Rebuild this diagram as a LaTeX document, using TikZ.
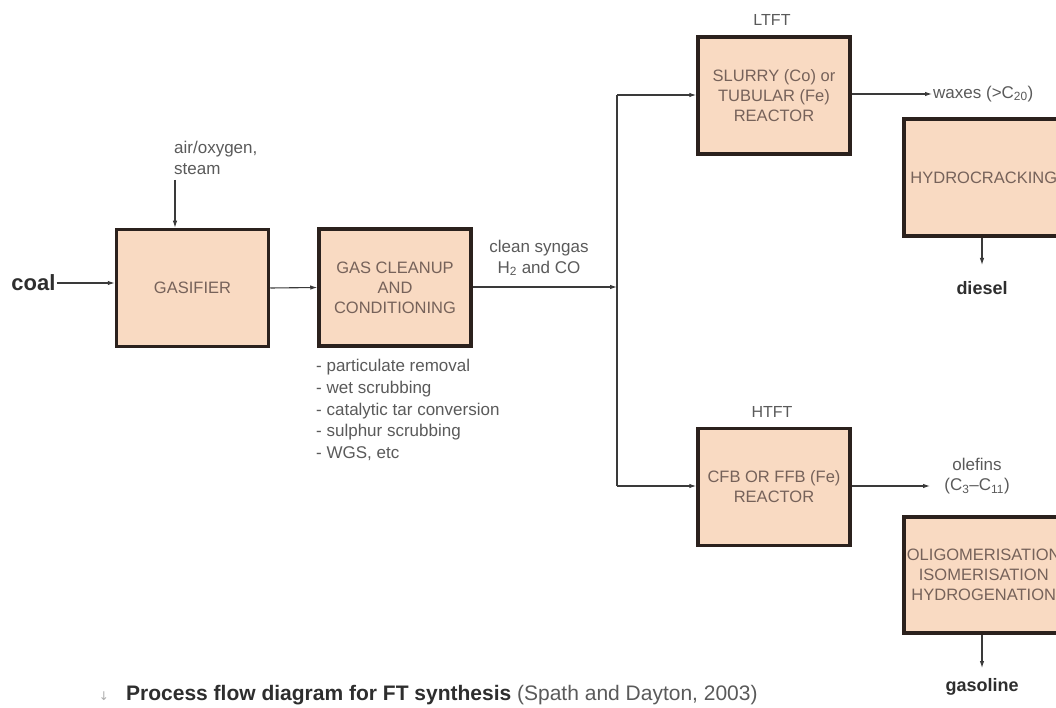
\documentclass[tikz,border=0pt]{standalone}
\usepackage{fontspec}
\setmainfont{Liberation Sans}
\newfontfamily\symfont{DejaVu Sans}
\usetikzlibrary{arrows.meta}
\definecolor{boxfill}{HTML}{F9DAC2}
\definecolor{boxline}{HTML}{2B211D}
\definecolor{boxtext}{HTML}{76625A}
\definecolor{lbltext}{HTML}{5A5A5A}
\definecolor{boldtext}{HTML}{2E2E2E}
\definecolor{conn}{HTML}{3A3A3A}
\tikzset{
  procbox/.style={draw=boxline, line width=3.5pt, fill=boxfill, minimum width=152pt,
    minimum height=117pt, inner sep=0pt, align=center, text=boxtext,
    font=\fontsize{16.5}{20}\selectfont},
  lbl/.style={text=lbltext, font=\fontsize{17}{20.5}\selectfont, inner sep=1pt},
  boldlbl/.style={text=boldtext, font=\fontsize{18}{21}\selectfont\bfseries, inner sep=1pt},
  arr/.style={draw=conn, line width=1.1pt, -{Latex[length=7pt,width=4.5pt]}},
  ln/.style={draw=conn, line width=1.1pt}
}
\begin{document}
\begin{tikzpicture}[x=1pt,y=-1pt]
\clip (0,0) rectangle (1056,708);
\fill[white] (0,0) rectangle (1056,708);

% process boxes
\node[procbox] (gasifier) at (192.5,288) {GASIFIER};
\node[procbox] (cleanup) at (395,287.5) {GAS CLEANUP\\AND\\CONDITIONING};
\node[procbox] (ltft) at (774,95.5) {SLURRY (Co) or\\TUBULAR (Fe)\\REACTOR};
\node[procbox, minimum width=160pt] (hydro) at (983.75,177.5) {HYDROCRACKING};
\node[procbox] (htft) at (774,487) {CFB OR FFB (Fe)\\REACTOR};
\node[procbox, minimum width=160pt, minimum height=116pt] (oligo) at (983.75,575) {OLIGOMERISATION\\ISOMERISATION\\HYDROGENATION};

% labels
\node[lbl, font=\fontsize{16}{20}\selectfont] (ltftlbl) at (772,20) {LTFT};
\node[lbl, font=\fontsize{16}{20}\selectfont] (htftlbl) at (772,412) {HTFT};
\node[boldlbl, font=\fontsize{22}{24}\selectfont\bfseries] (coal) at (33.5,283) {coal};
\node[lbl, align=left, anchor=west] (air) at (173,158) {air/oxygen,\\steam};
\node[lbl, align=center] (syngas) at (539,258) {clean syngas\\H\textsubscript{2} and CO};
\node[lbl, align=left, anchor=west, font=\fontsize{17}{21.6}\selectfont] (steps) at (315,410)
  {- particulate removal\\- wet scrubbing\\- catalytic tar conversion\\- sulphur scrubbing\\- WGS, etc};
\node[lbl, anchor=west] (waxes) at (932,94) {waxes (>C\textsubscript{20})};
\node[lbl, align=center] (olefins) at (977,476) {olefins\\(C\textsubscript{3}--C\textsubscript{11})};
\node[boldlbl] (diesel) at (982,288) {diesel};
\node[boldlbl] (gasoline) at (982,687) {gasoline};

% caption
\node[text=lbltext!50, font=\symfont\fontsize{12}{14}\selectfont, inner sep=0pt] (capmark) at (104,696) {↓};
\node[anchor=west, inner sep=0pt, font=\fontsize{21}{24}\selectfont] (caption) at (126,695)
  {\textcolor{boldtext}{\bfseries Process flow diagram for FT synthesis} \textcolor{lbltext}{(Spath and Dayton, 2003)}};

% coordinates
\coordinate (airtop) at (175,180);
\coordinate (junc) at (617,287);
\coordinate (jtop) at (617,95);
\coordinate (jbot) at (617,486);
\coordinate (olefinsin) at (930,486);
\coordinate (dieseltip) at (982,265);
\coordinate (gasotip) at (982,668);

% connectors
\draw[arr] (coal.east) -- (coal.east -| gasifier.west);
\draw[arr] (airtop) -- (airtop |- gasifier.north);
\draw[arr] (gasifier.east) -- (cleanup.west);
\draw[arr] (cleanup.east |- junc) -- (junc);
\draw[ln] (jtop) -- (jbot);
\draw[arr] (jtop) -- (jtop -| ltft.west);
\draw[arr] (jbot) -- (jbot -| htft.west);
\draw[arr] (ltft.east |- waxes.west) -- (waxes.west);
\draw[arr] (htft.east |- olefinsin) -- (olefinsin);
\draw[arr] (dieseltip |- hydro.south) -- (dieseltip);
\draw[arr] (gasotip |- oligo.south) -- (gasotip);
\end{tikzpicture}
\end{document}
